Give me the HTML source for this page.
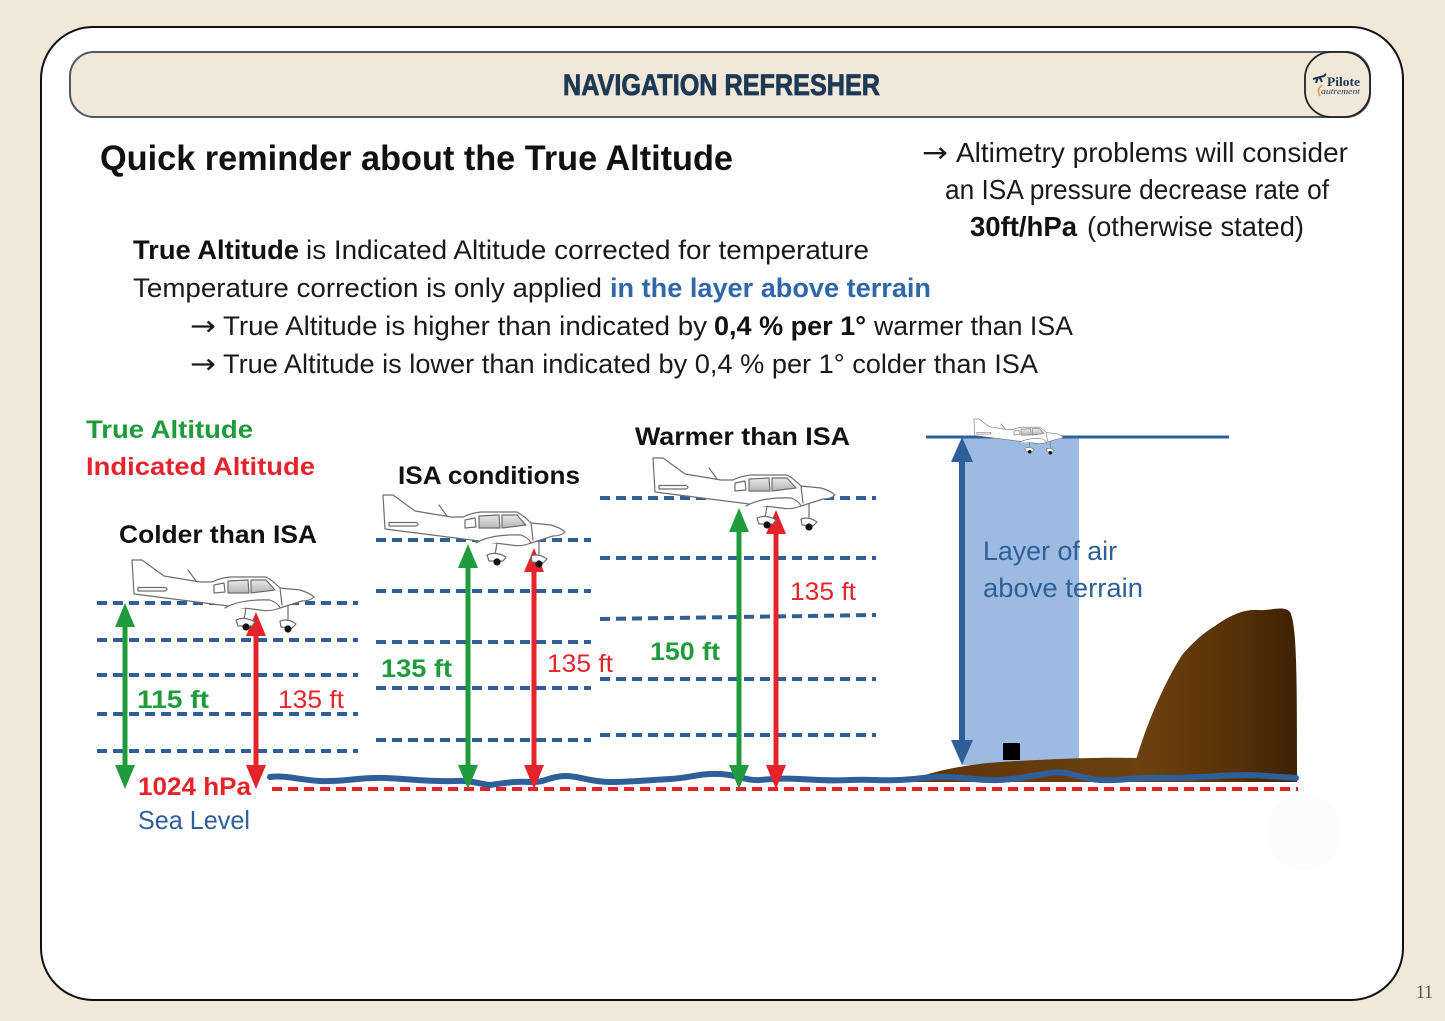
<!DOCTYPE html>
<html>
<head>
<meta charset="utf-8">
<style>
html,body{margin:0;padding:0;background:#f1e8da;}
svg{display:block;}
text{font-family:"Liberation Sans","DejaVu Sans",sans-serif;}
.arr{font-family:"DejaVu Sans",sans-serif;}
</style>
</head>
<body>
<svg width="1445" height="1021" viewBox="0 0 1445 1021" xmlns="http://www.w3.org/2000/svg">
<defs>
  <linearGradient id="mtn" x1="0" y1="0" x2="1" y2="0">
    <stop offset="0" stop-color="#6f430f"/>
    <stop offset="0.6" stop-color="#583208"/>
    <stop offset="1" stop-color="#3e2104"/>
  </linearGradient>
  <linearGradient id="hill" x1="0" y1="0" x2="1" y2="0">
    <stop offset="0" stop-color="#5e3509"/>
    <stop offset="1" stop-color="#6b400e"/>
  </linearGradient>
  <linearGradient id="win" x1="0" y1="0" x2="0" y2="1">
    <stop offset="0" stop-color="#e8e8e8"/>
    <stop offset="1" stop-color="#b5b5b5"/>
  </linearGradient>
  <g id="plane" stroke="#6e6e6e" stroke-width="1.2" stroke-linejoin="round" stroke-linecap="round">
    <path d="M12,10 L22,10 L44,26 L80,32 L92,32 Q100,28 110,27 L146,27 Q152,30 160,38 L180,40 Q190,43 194,47 Q190,51 182,51 L160,58 Q150,62 140,60 L14,44 Z" fill="#fff"/>
    <path d="M18,37.5 L45,37.5 Q49,39.3 45,41 L18,41 Z" fill="#fff"/>
    <path d="M94,35 L104,33 L105,42 L94,43 Z" fill="#fff"/>
    <path d="M108,31 L128,30 L129,43 L108,43 Z" fill="url(#win)"/>
    <path d="M131,30 L146,30 L155,40 L131,43 Z" fill="url(#win)"/>
    <path d="M105,58 Q120,49 150,50 Q158,53 160,58" fill="#fff"/>
    <path d="M68,20 L76,31" fill="none"/>
    <path d="M160,38 L162,55" fill="none"/>
    <path d="M126,58 L124,70" fill="none"/>
    <path d="M116,70 Q125,66 135,72 L132,76 L118,76 Z" fill="#fff"/>
    <circle cx="126" cy="77" r="3.6" fill="#111" stroke="none"/>
    <path d="M168,56 L168,70" fill="none"/>
    <path d="M160,71 Q168,68 176,74 L172,78 L161,77 Z" fill="#fff"/>
    <circle cx="168" cy="79" r="3.6" fill="#111" stroke="none"/>
  </g>
</defs>

<!-- background -->
<rect x="0" y="0" width="1445" height="1021" fill="#f1e8da"/>
<!-- card -->
<rect x="41" y="27" width="1362" height="973" rx="52" ry="52" fill="#ffffff" stroke="#111" stroke-width="2"/>
<!-- header bar -->
<rect x="70" y="52" width="1300" height="65" rx="24" ry="24" fill="#f1e8da" stroke="#4f5961" stroke-width="2"/>
<text x="563" y="95" font-size="30" font-weight="bold" fill="#1d3954" stroke="#1d3954" stroke-width="0.8" textLength="317" lengthAdjust="spacingAndGlyphs">NAVIGATION REFRESHER</text>
<!-- logo -->
<rect x="1305" y="52" width="65" height="65" rx="26" ry="26" fill="#f1e8da" stroke="#222" stroke-width="1.8"/>
<path d="M1313,79 L1324,76 L1326,74 M1318,77 L1316,83 M1320,78 L1322,82" stroke="#1d3954" stroke-width="2" fill="none"/>
<path d="M1322,85 Q1316,90 1320,96" stroke="#e0a040" stroke-width="1.6" fill="none"/>
<text x="1327" y="86" font-size="13" font-weight="bold" fill="#1d3954" textLength="33" lengthAdjust="spacingAndGlyphs" style="font-family:'Liberation Serif',serif">Pilote</text>
<text x="1321" y="94" font-size="8" font-style="italic" fill="#1d3954" textLength="39" lengthAdjust="spacingAndGlyphs" style="font-family:'Liberation Serif',serif">autrement</text>

<!-- title -->
<text x="100" y="170" font-size="35" font-weight="bold" fill="#111" textLength="633" lengthAdjust="spacingAndGlyphs">Quick reminder about the True Altitude</text>

<!-- right block -->
<g font-size="28" fill="#1a1a1a">
  <text class="arr" x="922" y="162" textLength="26" lengthAdjust="spacingAndGlyphs">→</text>
  <text x="956" y="162" textLength="392" lengthAdjust="spacingAndGlyphs">Altimetry problems will consider</text>
  <text x="945" y="199" textLength="384" lengthAdjust="spacingAndGlyphs">an ISA pressure decrease rate of</text>
  <text x="970" y="236" font-weight="bold" fill="#111" textLength="107" lengthAdjust="spacingAndGlyphs">30ft/hPa</text>
  <text x="1087" y="236" textLength="217" lengthAdjust="spacingAndGlyphs">(otherwise stated)</text>
</g>

<!-- body -->
<g font-size="27" fill="#1a1a1a">
  <text x="133" y="259" font-weight="bold" fill="#111" textLength="166" lengthAdjust="spacingAndGlyphs">True Altitude</text>
  <text x="306" y="259" textLength="563" lengthAdjust="spacingAndGlyphs">is Indicated Altitude corrected for temperature</text>
  <text x="133" y="297" textLength="469" lengthAdjust="spacingAndGlyphs">Temperature correction is only applied</text>
  <text x="610" y="297" font-weight="bold" fill="#2f67a8" textLength="321" lengthAdjust="spacingAndGlyphs">in the layer above terrain</text>
  <text class="arr" x="190" y="335" textLength="26" lengthAdjust="spacingAndGlyphs">→</text>
  <text x="223" y="335" textLength="484" lengthAdjust="spacingAndGlyphs">True Altitude is higher than indicated by</text>
  <text x="714" y="335" font-weight="bold" fill="#111" textLength="152" lengthAdjust="spacingAndGlyphs">0,4 % per 1°</text>
  <text x="874" y="335" textLength="199" lengthAdjust="spacingAndGlyphs">warmer than ISA</text>
  <text class="arr" x="190" y="373" textLength="26" lengthAdjust="spacingAndGlyphs">→</text>
  <text x="223" y="373" textLength="815" lengthAdjust="spacingAndGlyphs">True Altitude is lower than indicated by 0,4 % per 1° colder than ISA</text>
</g>

<!-- legend & headings -->
<g font-size="25" font-weight="bold">
  <text x="86" y="438" fill="#1f9b3c" textLength="167" lengthAdjust="spacingAndGlyphs">True Altitude</text>
  <text x="86" y="475" fill="#e5232a" textLength="229" lengthAdjust="spacingAndGlyphs">Indicated Altitude</text>
  <text x="398" y="484" fill="#111" textLength="182" lengthAdjust="spacingAndGlyphs">ISA conditions</text>
  <text x="635" y="445" fill="#111" textLength="215" lengthAdjust="spacingAndGlyphs">Warmer than ISA</text>
  <text x="119" y="543" fill="#111" textLength="198" lengthAdjust="spacingAndGlyphs">Colder than ISA</text>
</g>

<!-- dashed isobars -->
<g stroke="#2f5f96" stroke-width="4" stroke-dasharray="10 6" fill="none">
  <line x1="97" y1="603" x2="358" y2="603"/>
  <line x1="97" y1="640" x2="358" y2="640"/>
  <line x1="97" y1="675" x2="358" y2="675"/>
  <line x1="97" y1="714" x2="358" y2="714"/>
  <line x1="97" y1="751" x2="358" y2="751"/>

  <line x1="376" y1="540" x2="591" y2="540"/>
  <line x1="376" y1="591" x2="591" y2="591"/>
  <line x1="376" y1="642" x2="591" y2="642"/>
  <line x1="376" y1="688" x2="591" y2="688"/>
  <line x1="376" y1="740" x2="591" y2="740"/>

  <line x1="600" y1="498" x2="876" y2="498"/>
  <line x1="600" y1="558" x2="876" y2="558"/>
  <line x1="600" y1="619" x2="876" y2="615"/>
  <line x1="600" y1="679" x2="876" y2="679"/>
  <line x1="600" y1="735" x2="876" y2="735"/>
</g>

<!-- right diagram: level line and layer -->
<rect x="962" y="437" width="117" height="328" fill="#9dbbe0"/>
<line x1="926" y1="437" x2="1229" y2="437" stroke="#2e5f98" stroke-width="3"/>

<!-- terrain -->
<path d="M905,782 C930,772 960,765 1000,762 C1050,759 1100,757 1137,758 L1142,782 Z" fill="url(#hill)"/>
<path d="M1130,782 C1140,740 1160,690 1182,655 C1195,640 1205,632 1215,626 C1230,615 1245,609 1258,610 C1270,611 1284,605 1290,612 C1297,625 1297,680 1297,782 Z" fill="url(#mtn)"/>
<rect x="1003" y="743" width="17" height="17" fill="#000"/>

<!-- red dashed pressure level -->
<line x1="272" y1="789" x2="1298" y2="789" stroke="#e5232a" stroke-width="4" stroke-dasharray="10 6"/>

<!-- sea wave -->
<path d="M270,777 C285,775 300,780 320,781 C345,782 360,777 385,778 C410,779 430,782 455,781 C470,780 480,784 490,785 C505,783 515,781 530,782 C545,783 550,776 565,776 C580,776 590,782 610,782 C630,782 650,780 670,779 C690,778 700,773 720,774 C740,775 745,781 760,780 C775,779 780,778 800,779 C820,780 830,781 850,780 C870,779 880,781 900,780 C920,779 930,776 950,777 C970,778 980,781 1000,780 C1020,779 1030,776 1050,773 C1070,770 1080,779 1100,780 C1120,781 1130,778 1150,778 C1170,778 1180,778 1200,777 C1220,776 1230,775 1250,775 C1270,776 1280,777 1296,778" fill="none" stroke="#2e5f98" stroke-width="6" stroke-linecap="round"/>

<!-- arrows -->
<g>
  <rect x="122.5" y="625" width="5" height="140" fill="#1f9b3c"/>
  <polygon points="125,603 115,627 135,627" fill="#1f9b3c"/>
  <polygon points="125,789 115,765 135,765" fill="#1f9b3c"/>
  <rect x="253.5" y="634" width="5" height="132" fill="#e5232a"/>
  <polygon points="256,612 246,636 266,636" fill="#e5232a"/>
  <polygon points="256,789 246,765 266,765" fill="#e5232a"/>
  <rect x="465.5" y="566" width="5" height="200" fill="#1f9b3c"/>
  <polygon points="468,544 458,568 478,568" fill="#1f9b3c"/>
  <polygon points="468,789 458,765 478,765" fill="#1f9b3c"/>
  <rect x="531.5" y="570" width="5" height="196" fill="#e5232a"/>
  <polygon points="534,548 524,572 544,572" fill="#e5232a"/>
  <polygon points="534,789 524,765 544,765" fill="#e5232a"/>
  <rect x="736.5" y="530" width="5" height="236" fill="#1f9b3c"/>
  <polygon points="739,508 729,532 749,532" fill="#1f9b3c"/>
  <polygon points="739,789 729,765 749,765" fill="#1f9b3c"/>
  <rect x="773.5" y="532" width="5" height="234" fill="#e5232a"/>
  <polygon points="776,510 766,534 786,534" fill="#e5232a"/>
  <polygon points="776,789 766,765 786,765" fill="#e5232a"/>
  <rect x="959" y="460" width="6" height="282" fill="#2e5f98"/>
  <polygon points="962,437 951,462 973,462" fill="#2e5f98"/>
  <polygon points="962,765 951,740 973,740" fill="#2e5f98"/>
</g>

<!-- planes -->
<use href="#plane" transform="translate(120,550)"/>
<use href="#plane" transform="translate(371,485)"/>
<use href="#plane" transform="translate(641,448)"/>
<use href="#plane" transform="translate(968,414) scale(0.49)"/>

<!-- value labels -->
<g font-size="25">
  <text x="137" y="708" font-weight="bold" fill="#1f9b3c" textLength="72" lengthAdjust="spacingAndGlyphs">115 ft</text>
  <text x="278" y="708" fill="#e5232a" textLength="66" lengthAdjust="spacingAndGlyphs">135 ft</text>
  <text x="381" y="677" font-weight="bold" fill="#1f9b3c" textLength="71" lengthAdjust="spacingAndGlyphs">135 ft</text>
  <text x="547" y="672" fill="#e5232a" textLength="66" lengthAdjust="spacingAndGlyphs">135 ft</text>
  <text x="650" y="660" font-weight="bold" fill="#1f9b3c" textLength="70" lengthAdjust="spacingAndGlyphs">150 ft</text>
  <text x="790" y="600" fill="#e5232a" textLength="66" lengthAdjust="spacingAndGlyphs">135 ft</text>
  <text x="138" y="795" font-weight="bold" fill="#e5232a" textLength="113" lengthAdjust="spacingAndGlyphs">1024 hPa</text>
  <text x="138" y="829" font-size="26" fill="#2e5f98" textLength="112" lengthAdjust="spacingAndGlyphs">Sea Level</text>
</g>

<g font-size="27" fill="#2e5f98">
  <text x="983" y="560" textLength="134" lengthAdjust="spacingAndGlyphs">Layer of air</text>
  <text x="983" y="597" textLength="160" lengthAdjust="spacingAndGlyphs">above terrain</text>
</g>

<!-- faint circle -->
<circle cx="1304" cy="832" r="38" fill="#fcfcfc"/>

<!-- page number -->
<text x="1416" y="998" font-size="19" fill="#4a5060" textLength="17" lengthAdjust="spacingAndGlyphs" style="font-family:'Liberation Serif',serif">11</text>
</svg>
</body>
</html>
